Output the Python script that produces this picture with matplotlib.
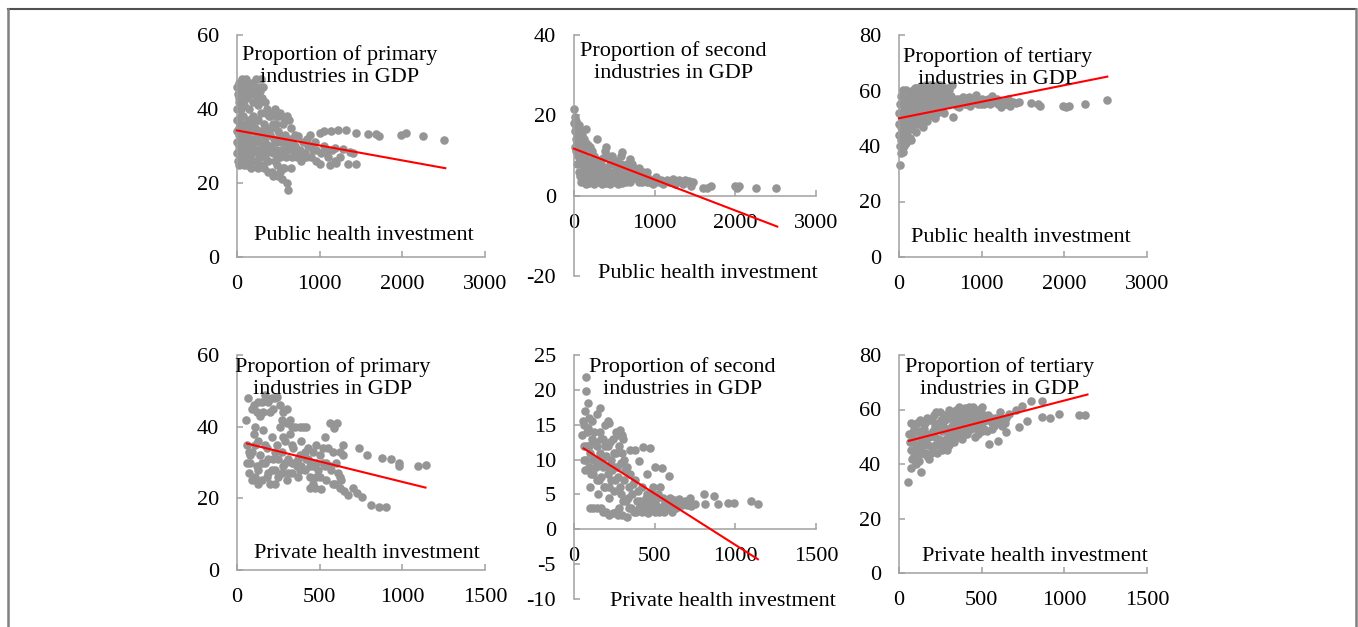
'''
    Scatter of industry share in GDP against health investment,
    public (top row) and private (bottom row), with linear trend.
'''
import numpy as np
import matplotlib.pyplot as plt
from matplotlib.lines import Line2D

# public health investment vs primary share
pub_primary = [
    (10,44),(20,47),(30,42),(40,46),(60,48),(80,45),(100,47),(120,43),(150,46),(180,47),(200,44),(230,48),
    (250,46),(280,45),(300,43),(320,46),(50,40),(90,41),(140,40),(260,41),(340,42),
    (0,28),(0,31),(0,34),(10,37),(10,26),(20,30),(30,33),(40,27),(40,36),(60,29),(60,32),(70,38),(80,25),
    (90,31),(100,35),(110,28),(120,33),(130,26),(140,37),(150,30),(160,34),(170,24),(180,28),(190,38),
    (200,31),(210,26),(220,35),(230,29),(240,33),(250,24),(260,37),(270,31),(280,27),(290,39),(300,34),
    (310,29),(320,25),(330,36),(340,31),(350,28),(360,40),(370,33),(380,26),(390,38),(400,30),(410,35),
    (420,23),(430,28),(440,39),(450,32),(460,26),(470,36),(480,29),(490,22),(500,34),(510,38),(520,27),
    (530,31),(540,21),(560,36),(570,24),(580,33),(600,29),(600,20),(620,18),(610,38),(640,32),(650,24),(660,27),
    (700,30),(720,27),(739,32.6),(760,29),(780,26),(800,31),(820,28),(840,27),(860,30),(880,33),(900,27),
    (920,29),(940,31),(960,26),(1000,33.5),(1000,25.2),(1020,28),(1080,28.6),(1120,25),(1140,34),(1180,29.5),
    (1200,25.4),(1221,34.4),(1281,29.2),(1321,34.4),(1341,25.2),(1361,28.3),(1442,33.5),(1442,25.2),
    (1582,33.2),(1683,33.2),(1720,32.8),(1984,33),(2044,33.5),(2245,32.8),(2506,31.7),
    (20,35),(30,29),(50,38),(50,31),(70,34),(80,28),(90,36),(110,32),(130,30),(150,34),(150,27),(170,36),
    (190,32),(200,29),(220,31),(240,37),(260,28),(270,34),(300,30),(320,33),(340,27),(360,35),(380,30),
    (400,33),(430,36),(450,29),(470,31),(500,27),(520,33),(550,29),(560,31),(590,27),(620,30),(680,29),
    (650,35),(560,24),(520,23),(480,25),(440,22),(380,23),(330,24),(280,25),(230,26),(120,25),(60,26),
    (30,25),(0,37),(0,40),(20,43),(0,46),(70,43),(160,44),(190,42),(220,45),(110,48),(290,48),(250,43),
    (350,39),(400,38),(460,40),(470,38),(520,39),(580,37),(630,37),(700,33),(660,31),(740,28),(800,27),
    (850,32),(900,30),(950,29),(1050,30),(1100,27),(1150,29),(1250,27),(1400,28),(1050,34),(1180,26),
]
pub_primary_fit = [(0, 34.2), (2520, 24.0)]

# public health investment vs secondary share
pub_second = [
    (0,21.5),(10,19.5),(0,18),(20,17),(30,16),(40,15.5),(50,14),(60,17.5),(80,16),(100,15),(120,14),
    (150,13),(170,12.5),(200,12),(220,11),(250,10),(10,12),(30,11),(50,10),(70,9),(100,8),(130,7),
    (160,6),(190,5),(220,4),(150,3),(180,3.2),(250,3),(300,3.5),(350,3),(400,3.2),(450,3),(500,3.5),
    (550,3),(600,3.2),(150,16.5),(280,14),(400,12),(300,9),(320,7),(350,6),(380,11),(420,10),(450,8),
    (480,6),(500,9),(520,7),(550,5),(580,8),(600,10.8),(620,4.5),(650,7),(680,5),(690,9.2),(720,8),
    (750,6),(780,5),(810,7),(820,4),(850,6),(880,4.5),(900,5.8),(930,3.5),(950,4),(980,3),(1020,4.6),
    (1050,3.5),(1100,3),(1150,4),(1230,4.2),(1250,3),(1300,4),(1350,3),(1430,3.7),(1450,2.5),(1470,3.5),
    (1600,1.8),(1650,2),(1700,2.5),(2000,2.5),(2050,2.5),(2020,2),(2250,2),(2500,2),
    (250,6),(280,8),(330,5),(360,4),(420,5),(460,4),(520,4),(560,6),(580,10),(300,5),(230,7),
    (20,14),(40,13),(60,12),(80,11),(100,12.5),(120,11),(140,10),(170,9),(200,8),(230,9),(260,8.5),
    (40,8),(60,6),(80,5),(110,4),(90,3.5),(120,5.5),(200,6),(270,5),(330,8),(360,9.5),(400,7),(440,6),
    (470,10),(520,8.5),(540,6.5),(620,6),(660,8),(700,6.5),(740,7),(760,4.5),(800,5.5),(840,3.5),
    (870,5.5),(920,4.5),(1000,3.5),(1080,4),(1180,3.5),(1280,3.5),(1380,4),(700,3.5),(650,3.5),(800,3.5),
    (900,3.5),(400,4.5),(500,5),(600,5),(30,18.5),(10,16),
]
pub_second_fit = [(0, 11.7), (2520, -7.7)]

# public health investment vs tertiary share
pub_tertiary = [
    (12,33.2),(0,44),(10,40),(20,37.5),(30,42),(40,46),(50,38),(60,44),(70,48),(80,41),(90,52),(100,45),
    (110,55),(120,50),(130,43),(140,58),(150,47),(160,53),(170,60),(180,49),(190,56),(200,45),(210,61),
    (220,52),(230,48),(240,58),(250,54),(260,50),(270,61.5),(280,56),(290,47),(300,59),(310,52),(320,55),
    (330,62),(340,49),(350,57),(360,53),(370,60),(380,51),(390,56),(400,62),(410,54),(420,58),(430,50),
    (440,61),(450,55),(460,52),(470,59),(480,57),(490,53),(500,62),(510,56),(520,54),(530,60),(540,57),
    (560,55),(580,61),(600,58),(620,56),(640,62),(657,50.6),(680,55),(700,57),(720,54),(750,56),(780,57.5),
    (800,55),(830,56.5),(860,54.5),(880,57),(900,55.5),(930,58.5),(960,56),(1000,57),(1030,55),(1060,56.5),
    (1100,55),(1130,58),(1160,56),(1200,55),(1230,54),(1260,56),(1300,55),(1340,54.5),(1380,56),(1420,55.5),
    (1450,56),(1600,55.5),(1680,55),(1700,54.5),(1980,54.5),(2020,54),(2060,54.5),(2250,55),(2520,56.5),
    (20,47),(40,50),(60,53),(80,56),(100,49),(120,58),(140,51),(160,46),(180,59),(200,54),(220,57),
    (240,51),(260,59),(280,53),(300,50),(330,57),(360,58),(390,60),(420,53),(450,59),(480,54),(520,59),
    (560,58),(600,55),(640,57),(30,52),(50,55),
    (0,48),(0,52),(10,55),(30,58),(50,60),(70,57),(90,60),(100,53),(60,40),(40,42),(110,42),(80,46),
    (150,55),(170,51),(190,61),(230,56),(250,61),(270,57),(300,55),(320,61),(350,60),(380,62),(410,60),
    (440,58),(470,62),(500,58),(540,61),(570,59),(610,60),(630,58),(250,48),(310,49),(200,50),(150,42),
    (130,47),(370,51),(460,56),(540,52),(590,55),(700,54.5),(740,57),(820,55),(850,57.5),(950,55),
    (990,55),(1080,57),(1180,57),(1280,55),(1320,57),
]
pub_tertiary_fit = [(0, 50.0), (2520, 65.0)]

# private health investment vs primary share
priv_primary = [
    (67,47.9),(100,46),(120,44),(150,47),(169,48.8),(210,48),(240,48.4),(260,46),(280,44),(300,45),
    (320,42),(140,43),(200,44),(110,40),(57,41.9),
    (60,35),(70,27),(80,30),(90,33),(100,38),(110,26),(120,29),(130,36),(140,32),(150,25),(160,39),
    (170,30),(180,34),(190,27),(200,24),(210,37),(220,31),(230,28),(240,35),(250,26),(260,40),(270,33),
    (280,29),(290,36),(300,25),(310,31),(320,38),(330,27),(340,34),(350,40),(360,29),(370,26),(380,32),
    (390,36),(400,40),(410,28),(420,31),(430,34),(440,26),(450,30),(460,33),(470,23),(480,35),(490,28),
    (500,32),(510,22.5),(520,30),(530,37),(540,25),(550,34),(560,41),(570,28),(585,39.5),(590,24),
    (606,41.1),(610,27),(620,33),(630,25),(640,35),(650,22),(670,21),(728,21.4),(738,34),(758,20.5),
    (789,32.1),(809,18.1),(860,17.7),(880,31.2),(900,17.7),(931,30.9),(982,29),(982,29.8),(1094,29),(1144,29.3),
    (80,32),(130,28),(180,26),(230,33),(280,37),(330,30),(380,28),(430,31),(480,26),(530,29),(580,33),
    (90,45),(130,47),(160,44),(190,47),(220,45),(230,48),(270,42),(60,30),(70,33),(90,25),(110,35),
    (130,24),(150,30),(170,35),(190,31),(210,28),(230,24),(250,31),(270,27),(290,30),(310,27),(330,35),
    (350,30),(370,31),(390,29),(410,33),(420,40),(440,29),(460,29),(480,30),(500,26),(520,34),(540,30),
    (560,29),(580,24),(600,30),(620,26),(640,32),(460,24),(440,23),(700,23),(620,23),(380,40),(330,40),
    (300,41),
]
priv_primary_fit = [(60, 35.3), (1140, 23.0)]

# private health investment vs secondary share
priv_second = [
    (73,21.8),(77,19.8),(87,18.1),(160,17.4),(212,15.5),(285,14.3),(306,12.9),
    (50,13.5),(60,15),(60,10),(70,17),(70,8.5),(80,12),(80,14),(90,16),(90,9),(100,6),(100,11),(110,13),
    (110,15.5),(120,8),(120,3),(130,10),(130,12.5),(140,16.5),(140,7),(150,5),(150,9.5),(160,14),(160,11),
    (170,3),(170,7.5),(180,13),(180,9),(190,15),(190,6),(200,10.5),(200,2.5),(210,12),(210,8),(220,15.2),
    (220,4.5),(230,10),(230,7),(240,13),(240,2.3),(250,9),(250,5.5),(260,14),(260,11),(270,7.5),(280,12),
    (280,3),(290,9.5),(290,5),(300,13.5),(300,2),(310,10),(310,7),(320,4),(327,1.7),(330,9),(340,6),
    (340,3),(350,11.4),(360,5),(370,2.5),(380,11.4),(380,7),(390,4),(400,3),(400,9.8),(420,6),(420,2.5),
    (430,11.8),(440,3.5),(450,8),(450,5),(460,2.3),(473,11.7),(480,4),(490,6),(504,9),(500,2.5),(510,3.5),
    (520,5),(546,8.8),(540,3),(550,4.5),(560,2.5),(587,7.6),(580,4),(600,3.5),(610,2.5),(620,4.2),(640,3.5),
    (650,4.3),(670,3.5),(690,4),(723,3.3),(720,4.5),(750,3.6),(806,5),(815,3.6),(869,4.8),(890,3.6),
    (952,3.8),(994,3.8),(1098,4),(1140,3.6),
    (55,15.5),(65,12),(75,10),(85,14.5),(95,12),(105,8),(115,10),(125,14),(135,9),(145,12),(155,7),
    (165,13),(175,10),(185,6),(195,12),(205,9),(215,6),(225,12.5),(235,8.5),(245,11),(255,7),(265,9),
    (275,13.5),(285,6),(295,11),(305,4),(315,8.5),(335,4.5),(345,8),(355,3),(365,6.5),(385,2.5),(395,5.5),
    (410,4),(430,3),(445,4.5),(470,3),(485,5),(495,3.5),(515,4.5),(525,2.5),(535,6),(555,3.5),(575,3),
    (595,4.5),(630,3),(660,4),(700,3.5),(100,3),(140,3),(180,2.5),(220,2),(260,2.5),(270,2),
]
priv_second_fit = [(60, 11.6), (1140, -4.3)]

# private health investment vs tertiary share
priv_tertiary = [
    (56,33.3),(70,38.5),(80,51.5),(90,43),(100,47),(110,55),(120,41),(130,50),(136,37.2),(140,44),(150,53),
    (160,48),(170,57),(180,42),(190,51),(200,46),(210,58),(220,54),(230,44),(240,49),(250,59),(260,52),
    (270,47),(280,56),(290,45),(300,60),(310,50),(320,54),(330,48),(340,58),(350,52),(360,61),(370,55),
    (380,49),(390,57),(400,60.5),(410,51),(420,54),(430,59),(440,56),(450,61),(460,50),(470,57),(480,53),
    (490,60),(500,55),(510,58),(530,52),(546,47.4),(560,55),(580,57),(596,48.3),(610,59),(626,56.5),
    (646,51.6),(666,58.3),(706,60),(726,53.4),(746,61.3),(776,55.6),(796,63.1),(866,57.1),(866,63.1),
    (916,56.7),(966,58.3),(1086,57.9),(1126,57.9),
    (60,51),(70,45),(80,42),(90,53),(100,40),(110,46),(120,52),(130,45),(150,47),(160,55),(170,43),
    (180,50),(200,56),(220,47),(240,55),(260,45),(280,52),(300,47),(320,58),(340,50),(360,53),(380,60),
    (400,53),(420,58),(440,60),(460,54),(480,60),(500,52),(520,56),(540,58),(560,53),(600,55),(620,54),
    (65,48),(75,55),(85,49),(95,45),(105,52),(115,43),(125,56),(135,48),(145,55),(155,44),(165,51),
    (175,47),(185,56),(195,44),(205,52),(215,50),(225,59),(235,53),(245,47),(255,56),(265,54),(275,58),
    (285,49),(295,53),(305,57),(315,48),(325,51),(335,55),(345,60),(355,56),(365,50),(375,58),(385,54),
    (395,51),(405,58),(415,56),(425,61),(435,53),(445,57),(455,55),(465,59),(475,51),(485,56),(495,59),
    (505,61),(515,53),(535,56),(555,57),(575,54),(590,56),(640,55),(650,57),
]
priv_tertiary_fit = [(60, 48.5), (1140, 65.5)]

titles = ['Proportion of primary\nindustries in GDP',
          'Proportion of second\nindustries in GDP',
          'Proportion of tertiary\nindustries in GDP']
xlabels = ['Public health investment', 'Private health investment']


def draw_panel(fig, rect, pts, fit, xlim, xticks, ylim, yticks,
               title, title_xy, label, label_xy):
    ax = fig.add_axes(rect)
    pts = np.array(pts)
    fit = np.array(fit)
    ax.scatter(pts[:, 0], pts[:, 1], s=38, color='#959595', linewidths=0,
               clip_on=False, zorder=2)
    ax.plot(fit[:, 0], fit[:, 1], color='#ff0000', lw=1.5, zorder=3,
            clip_on=False)
    ax.set_xlim(xlim)
    ax.set_ylim(ylim)
    ax.set_xticks(xticks)
    ax.set_yticks(yticks)
    for s in ['top', 'right']:
        ax.spines[s].set_visible(False)
    for s in ['left', 'bottom']:
        ax.spines[s].set_color('#a0a0a0')
        ax.spines[s].set_linewidth(1.1)
    if ylim[0] < 0:
        ax.spines['bottom'].set_position(('data', 0))
    ax.tick_params(direction='in', length=4, width=1.1, color='#a0a0a0',
                   labelsize=16)
    ax.tick_params(axis='x', pad=13)
    ax.tick_params(axis='y', pad=13)
    ax.patch.set_alpha(0)
    ax.text(title_xy[0], title_xy[1], title, ha='center', va='top',
            fontsize=16, linespacing=1.22)
    ax.text(label_xy[0], label_xy[1], label, ha='center', va='baseline',
            fontsize=16)
    return ax


def main():
    plt.rcParams['font.family'] = ['Liberation Serif', 'DejaVu Serif']
    plt.rcParams['axes.unicode_minus'] = False
    fig = plt.figure(figsize=(13.58, 6.27), dpi=100)

    W, H = 1358.0, 627.0

    def rect(l, r, t, b):
        return [l / W, 1 - b / H, (r - l) / W, (b - t) / H]

    draw_panel(fig, rect(237, 485, 35, 257), pub_primary, pub_primary_fit,
               (0, 3000), [0, 1000, 2000, 3000], (0, 60), [0, 20, 40, 60],
               titles[0], (1240, 57.3), xlabels[0], (1540, 4.6))
    draw_panel(fig, rect(574, 816, 35, 276), pub_second, pub_second_fit,
               (0, 3000), [0, 1000, 2000, 3000], (-20, 40), [-20, 0, 20, 40],
               titles[1], (1230, 38.5), xlabels[0], (1665, -20.5))
    draw_panel(fig, rect(899, 1147, 35, 257), pub_tertiary, pub_tertiary_fit,
               (0, 3000), [0, 1000, 2000, 3000], (0, 80), [0, 20, 40, 60, 80],
               titles[2], (1190, 75.6), xlabels[0], (1480, 5.4))
    draw_panel(fig, rect(237, 485, 355, 570), priv_primary, priv_primary_fit,
               (0, 1500), [0, 500, 1000, 1500], (0, 60), [0, 20, 40, 60],
               titles[0], (580, 59.3), xlabels[1], (786, 3.3))
    draw_panel(fig, rect(574, 816, 355, 599), priv_second, priv_second_fit,
               (0, 1500), [0, 500, 1000, 1500], (-10, 25),
               [-10, -5, 0, 5, 10, 15, 20, 25],
               titles[1], (670, 24.65), xlabels[1], (925, -11.0))
    draw_panel(fig, rect(899, 1147, 355, 573), priv_tertiary, priv_tertiary_fit,
               (0, 1500), [0, 500, 1000, 1500], (0, 80), [0, 20, 40, 60, 80],
               titles[2], (611, 79.1), xlabels[1], (823, 4.4))

    # outer frame of the figure
    x0, x1, yt = 7.5 / W, 1356 / W, 1 - 8.5 / H
    fig.add_artist(Line2D([x0, x1], [yt, yt], color='#505050', lw=1.5))
    fig.add_artist(Line2D([x0, x0], [0, yt], color='#808080', lw=1.8))
    fig.add_artist(Line2D([x1, x1], [0, yt], color='#808080', lw=1.8))

    fig.savefig('out.png', dpi=100)


if __name__ == "__main__":
    main()
